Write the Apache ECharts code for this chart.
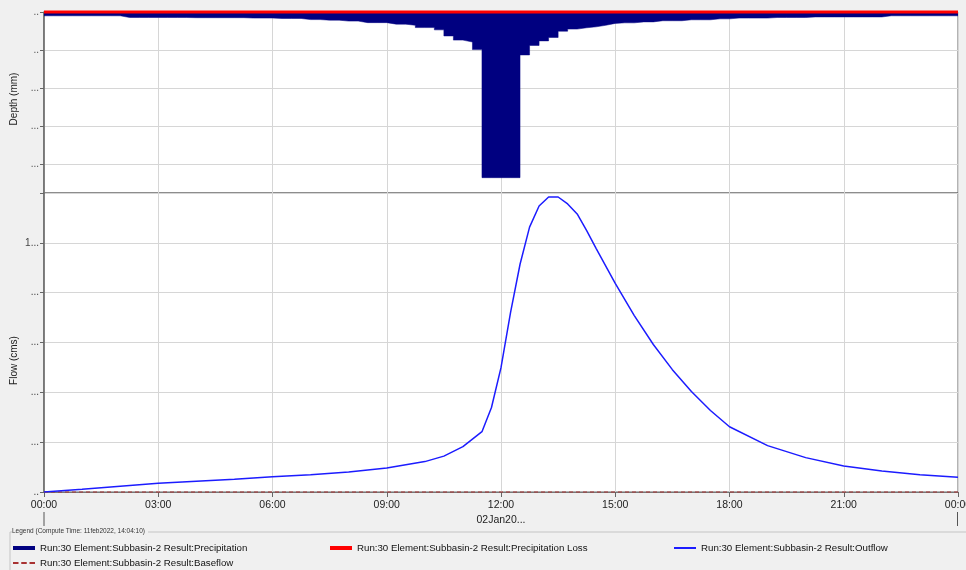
<!DOCTYPE html>
<html>
<head>
<meta charset="utf-8">
<script src="https://cdn.jsdelivr.net/npm/echarts@6/dist/echarts.min.js"></script>
<style>
  html, body { margin: 0; padding: 0; background: #f0f0f0; }
  #chart { width: 966px; height: 570px; }
</style>
</head>
<body>
<div id="chart"></div>
<script>
// precipitation depth per 15 min step, 00:00 -> 24:00
const precipDepth = [
  0.10, 0.10, 0.10, 0.10, 0.10, 0.10, 0.10, 0.10,
  0.145, 0.145, 0.145, 0.145, 0.145, 0.145, 0.145,
  0.15, 0.15, 0.15, 0.15, 0.15, 0.15,
  0.16, 0.16, 0.16,
  0.17, 0.17, 0.17,
  0.20, 0.20, 0.215, 0.215, 0.24, 0.24,
  0.28, 0.28, 0.28, 0.32, 0.32, 0.35, 0.41, 0.41, 0.47,
  0.63, 0.74, 0.79, 0.99,
  4.36, 4.36, 4.36, 4.36,
  1.13, 0.88, 0.76, 0.67, 0.505, 0.45, 0.415, 0.39, 0.35, 0.30,
  0.285, 0.285, 0.26, 0.26, 0.23, 0.23, 0.23,
  0.205, 0.205, 0.205, 0.18, 0.18,
  0.16, 0.16, 0.16, 0.16,
  0.145, 0.145, 0.145, 0.145,
  0.13, 0.13, 0.13, 0.13, 0.13, 0.13, 0.13, 0.13,
  0.10, 0.10, 0.10, 0.10, 0.10, 0.10, 0.10, 0.10
];
const lossHours = [0, 24];
const lossDepth = [0, 0];

const flowHours = [0, 1, 2, 3, 4, 5, 6, 7, 8, 9, 10, 10.5, 11, 11.5, 11.75, 12, 12.25, 12.5, 12.75,
  13, 13.25, 13.5, 13.75, 14, 14.25, 14.5, 15, 15.5, 16, 16.5, 17, 17.5, 18, 19, 20, 21, 22, 23, 24];
const flowValues = [0, 0.011, 0.023, 0.035, 0.043, 0.051, 0.061, 0.069, 0.080, 0.096, 0.122, 0.144, 0.182,
  0.242, 0.339, 0.499, 0.72, 0.914, 1.063, 1.148, 1.184, 1.184, 1.156, 1.116, 1.049, 0.977, 0.837,
  0.708, 0.592, 0.491, 0.403, 0.327, 0.262, 0.186, 0.138, 0.104, 0.084, 0.069, 0.059];
const baseHours = [0, 24];
const baseValues = [0, 0];

const timeLabels = ['00:00', '03:00', '06:00', '09:00', '12:00', '15:00', '18:00', '21:00', '00:00'];

const names = {
  precip: 'Run:30 Element:Subbasin-2 Result:Precipitation',
  loss: 'Run:30 Element:Subbasin-2 Result:Precipitation Loss',
  outflow: 'Run:30 Element:Subbasin-2 Result:Outflow',
  base: 'Run:30 Element:Subbasin-2 Result:Baseflow'
};

const font = '"Liberation Sans", Arial, sans-serif';
const gridLine = { show: true, lineStyle: { color: '#d6d6d6', width: 1 } };

const precipData = precipDepth.map((d, i) => [i * 0.25, d]);
precipData.push([24, precipDepth[precipDepth.length - 1]]);

const pairs = (xs, ys) => xs.map((x, i) => [x, ys[i]]);

const legendBase = {
  padding: 0,
  itemWidth: 22,
  itemHeight: 4,
  selectedMode: false,
  textStyle: { fontSize: 9.7, color: '#111', fontFamily: font }
};

const chart = echarts.init(document.getElementById('chart'));

const option = {
  backgroundColor: '#f0f0f0',
  animation: false,
  textStyle: { fontFamily: font },
  grid: [
    { left: 44, right: 8, top: 12, height: 181, show: true, backgroundColor: '#fff',
      borderColor: '#666', borderWidth: 1, outerBoundsMode: 'none' },
    { left: 44, right: 8, top: 193, height: 299, show: true, backgroundColor: '#fff',
      borderColor: '#666', borderWidth: 1, outerBoundsMode: 'none' }
  ],
  xAxis: [
    { type: 'value', gridIndex: 0, min: 0, max: 24, interval: 3,
      axisLabel: { show: false }, axisTick: { show: false }, axisLine: { show: false },
      splitLine: gridLine },
    { type: 'value', gridIndex: 1, min: 0, max: 24, interval: 3,
      axisLabel: { fontSize: 10.5, color: '#222', margin: 8,
        formatter: (v) => timeLabels[Math.round(v / 3)] },
      axisTick: { show: true, length: 5, lineStyle: { color: '#666' } },
      axisLine: { show: true, lineStyle: { color: '#777' } },
      splitLine: gridLine,
      name: '02Jan20...', nameLocation: 'middle', nameGap: 23, nameMoveOverlap: false,
      nameTextStyle: { fontSize: 10.5, color: '#222' } }
  ],
  yAxis: [
    { type: 'value', gridIndex: 0, inverse: true, min: 0, max: 181 / 38, interval: 1,
      name: 'Depth (mm)', nameLocation: 'middle', nameGap: 25, nameMoveOverlap: false,
      nameTextStyle: { fontSize: 10, color: '#222', padding: [0, 0, 0, 7] },
      axisLabel: { fontSize: 10, color: '#555', margin: 5,
        formatter: (v) => (v === 0 || v === 1) ? '..' : (Number.isInteger(v) ? '...' : '') },
      axisTick: { show: true, length: 4, lineStyle: { color: '#666' } },
      axisLine: { show: true, lineStyle: { color: '#666', width: 1.5 } },
      splitLine: gridLine },
    { type: 'value', gridIndex: 1, min: 0, max: 1.2, interval: 0.2,
      name: 'Flow (cms)', nameLocation: 'middle', nameGap: 25, nameMoveOverlap: false,
      nameTextStyle: { fontSize: 10, color: '#222', padding: [0, 36, 0, 0] },
      axisLabel: { fontSize: 10, color: '#444', margin: 5,
        formatter: (v) => v === 0 ? '..' : (Math.abs(v - 1) < 1e-6 ? '1...' : (v > 1.1 ? '' : '...')) },
      axisTick: { show: true, length: 4, lineStyle: { color: '#666' } },
      axisLine: { show: true, lineStyle: { color: '#666', width: 1.5 } },
      splitLine: gridLine }
  ],
  legend: [
    { ...legendBase, left: 13, top: 543, icon: 'rect', data: [names.precip] },
    { ...legendBase, left: 330, top: 543, icon: 'rect', data: [names.loss] },
    { ...legendBase, left: 674, top: 543, icon: 'rect', itemHeight: 2, data: [names.outflow] },
    { ...legendBase, left: 13, top: 558, itemHeight: 2,
      icon: 'path://M0,0H6V2H0Z M9,0H15V2H9Z M18,0H24V2H18Z', data: [names.base] }
  ],
  graphic: [
    { type: 'line', shape: { x1: 10, y1: 532, x2: 10, y2: 570 }, style: { stroke: '#c4c4c4', lineWidth: 1 } },
    { type: 'line', shape: { x1: 148, y1: 532, x2: 966, y2: 532 }, style: { stroke: '#c4c4c4', lineWidth: 1 } },
    { type: 'line', shape: { x1: 10, y1: 532, x2: 12, y2: 532 }, style: { stroke: '#c4c4c4', lineWidth: 1 } },
    { type: 'text', left: 12, top: 528,
      style: { text: 'Legend (Compute Time: 11feb2022, 14:04:10)', fontSize: 6.5, fill: '#333', fontFamily: font } },
    { type: 'line', shape: { x1: 44, y1: 512, x2: 44, y2: 526 }, style: { stroke: '#555', lineWidth: 1 } },
    { type: 'line', shape: { x1: 957.5, y1: 512, x2: 957.5, y2: 526 }, style: { stroke: '#555', lineWidth: 1 } }
  ],
  series: [
    { name: names.precip, type: 'line', xAxisIndex: 0, yAxisIndex: 0, step: 'end',
      data: precipData, symbol: 'none', color: '#000080',
      lineStyle: { width: 0.5, color: '#000080' },
      areaStyle: { color: '#000080', opacity: 1, origin: 'start' } },
    { name: names.loss, type: 'line', xAxisIndex: 0, yAxisIndex: 0, clip: false,
      data: pairs(lossHours, lossDepth), symbol: 'none', color: '#ff0000',
      lineStyle: { width: 3, color: '#ff0000' }, z: 5 },
    { name: names.outflow, type: 'line', xAxisIndex: 1, yAxisIndex: 1,
      data: pairs(flowHours, flowValues), symbol: 'none', color: '#1c1cff',
      lineStyle: { width: 1.5, color: '#1c1cff' }, z: 4 },
    { name: names.base, type: 'line', xAxisIndex: 1, yAxisIndex: 1, clip: false,
      data: pairs(baseHours, baseValues), symbol: 'none', color: '#a83232',
      lineStyle: { width: 1, color: '#a83232', type: [4, 3] }, z: 3 }
  ]
};

chart.setOption(option);
</script>
</body>
</html>
